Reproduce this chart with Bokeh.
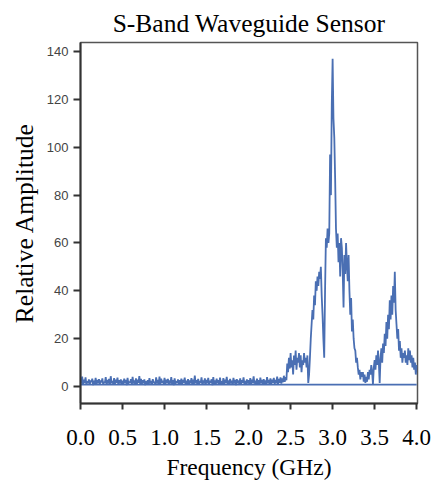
import numpy as np
from bokeh.plotting import figure
from bokeh.models import Range1d, FixedTicker
from bokeh.embed import file_html
from bokeh.resources import INLINE

TITLE = "S-Band Waveguide Sensor"
X_LABEL = "Frequency (GHz)"
Y_LABEL = "Relative Amplitude"

X_TICKS = [0.0, 0.5, 1.0, 1.5, 2.0, 2.5, 3.0, 3.5, 4.0]
X_TICK_LABELS = ["0.0", "0.5", "1.0", "1.5", "2.0", "2.5", "3.0", "3.5", "4.0"]
Y_TICKS = [0, 20, 40, 60, 80, 100, 120, 140]

FREQ_START = 0.0
FREQ_STEP = 0.01

# noise floor 0.00 - 2.45 GHz
AMP_FLOOR = [
    3.5, 1.2, 4.1, 0.8, 2.9, 1.5, 3.8, 0.9, 2.2, 1.4,
    3.0, 0.7, 2.6, 1.8, 3.3, 0.6, 2.4, 1.1, 3.6, 1.0,
    2.8, 1.3, 3.1, 0.9, 2.5, 1.7, 3.4, 0.8, 2.0, 1.5,
    3.9, 1.0, 2.7, 1.2, 3.2, 0.7, 4.3, 1.4, 2.3, 0.9,
    3.5, 1.1, 2.9, 1.6, 3.7, 0.8, 2.6, 1.3, 3.0, 1.0,
    2.4, 0.9, 3.3, 1.5, 2.8, 0.6, 3.6, 1.2, 2.1, 1.7,
    3.1, 0.8, 4.0, 1.3, 2.5, 1.0, 3.4, 0.7, 2.9, 1.6,
    4.4, 1.1, 3.2, 0.9, 2.7, 1.4, 3.0, 0.6, 2.2, 1.2,
    2.6, 0.8, 3.5, 1.3, 2.3, 0.7, 3.1, 1.5, 2.0, 0.9,
    3.8, 1.2, 2.8, 1.0, 4.1, 0.8, 3.3, 1.6, 2.4, 1.1,
    3.6, 0.9, 2.9, 1.4, 3.2, 0.7, 2.5, 1.3, 3.9, 1.0,
    2.7, 0.6, 3.4, 1.2, 2.2, 1.5, 3.0, 0.8, 2.6, 1.1,
    3.3, 0.9, 2.8, 1.6, 3.7, 0.7, 2.4, 1.2, 3.1, 0.8,
    2.5, 1.4, 3.5, 0.9, 2.9, 1.1, 4.6, 1.3, 2.7, 0.8,
    3.2, 1.0, 2.3, 1.5, 3.8, 0.7, 2.6, 1.2, 3.4, 0.9,
    2.8, 1.3, 3.6, 0.8, 2.4, 1.6, 3.0, 0.6, 3.9, 1.1,
    2.5, 0.9, 3.3, 1.4, 2.7, 0.7, 3.7, 1.2, 2.2, 1.0,
    3.5, 0.8, 2.9, 1.5, 4.0, 1.1, 2.6, 0.7, 3.2, 1.3,
    2.4, 0.9, 3.6, 1.2, 2.8, 0.6, 3.1, 1.4, 2.5, 1.0,
    3.4, 0.8, 2.7, 1.6, 3.8, 1.1, 2.3, 0.9, 3.0, 1.3,
    2.6, 1.0, 3.5, 0.7, 2.9, 1.5, 4.2, 1.2, 2.4, 0.8,
    3.3, 1.1, 2.6, 0.9, 3.7, 1.4, 2.8, 0.7, 3.1, 1.2,
    2.5, 0.9, 3.9, 1.3, 2.7, 1.0, 3.4, 0.8, 2.9, 1.6,
    3.6, 1.1, 2.8, 1.4, 4.1, 0.9, 3.2, 1.5, 3.8, 1.2,
    3.4, 1.8, 4.5, 2.0, 3.9, 2.6,
]
# shoulder 2.46 - 2.70 GHz
AMP_SHOULDER = [
    9.6, 6, 12, 7.5, 14, 8, 11, 5, 13, 9,
    15, 7, 12, 10, 14, 8, 13, 6, 11, 9,
    14, 10, 12, 8, 13,
]
# main band 2.71 - 3.00 GHz
AMP_MAIN_RISE = [
    1.5, 5, 12, 20, 26, 32, 28, 38, 34, 44,
    40, 46, 42, 48, 45, 50, 38, 30, 20, 12,
    40, 62, 58, 66, 60, 64, 97, 80, 118, 137,
]
# 3.01 - 4.00 GHz
AMP_UPPER = [
    112, 104, 87, 66, 58, 64, 52, 60, 46, 62,
    58, 48, 33, 55, 47, 60, 51, 44, 55, 40,
    30, 37, 23, 28, 20, 16, 15, 10, 12, 8,
    5, 7, 3, 6, 4, 6, 2, 5, 1.5, 4,
    2, 6, 3, 7, 5, 9, 6, 1, 8, 11,
    7, 13, 9, 15, 10, 1.5, 12, 16, 10, 18,
    14, 22, 17, 27, 20, 30, 24, 36, 28, 38,
    30, 42, 35, 48, 32, 26, 20, 24, 15, 19,
    12, 16, 10, 14, 12, 15, 10, 13, 9, 16,
    11, 15, 10, 13, 8, 12, 7, 10, 5, 9,
]
BASE_X = [0.0, 4.0]
BASE_Y = [0.8, 0.8]

amp = np.array(AMP_FLOOR + AMP_SHOULDER + AMP_MAIN_RISE + AMP_UPPER, dtype=float)
freq = FREQ_START + FREQ_STEP * np.arange(len(amp))

LINE_COLOR = "#4a6fb3"
SERIF = "Liberation Serif"

p = figure(frame_width=337, frame_height=361,
           x_range=Range1d(0, 4.01), y_range=Range1d(-7.1, 143.8),
           output_backend="svg", toolbar_location=None,
           min_border_left=80, min_border_right=15,
           min_border_top=42, min_border_bottom=20)

p.line(BASE_X, BASE_Y, line_color=LINE_COLOR, line_width=1.8)
p.line(freq, amp, line_color=LINE_COLOR, line_width=1.8)

p.title.text = TITLE
p.title.text_font = SERIF
p.title.text_font_size = "25.5px"
p.title.text_font_style = "normal"
p.title.align = "center"
p.title.text_color = "black"

p.xgrid.visible = False
p.ygrid.visible = False
p.background_fill_color = "white"
p.border_fill_color = "white"
p.outline_line_color = "#555555"
p.outline_line_width = 1.5

xa = p.xaxis[0]
xa.ticker = FixedTicker(ticks=X_TICKS)
xa.major_label_overrides = {t: l for t, l in zip(X_TICKS, X_TICK_LABELS)}
xa.major_label_text_font = SERIF
xa.major_label_text_font_size = "23px"
xa.major_label_text_color = "black"
xa.major_label_standoff = 20
xa.axis_label = X_LABEL
xa.axis_label_text_font = SERIF
xa.axis_label_text_font_size = "23.5px"
xa.axis_label_text_font_style = "normal"
xa.axis_label_text_color = "black"
xa.axis_label_standoff = 6
xa.axis_line_color = "#333333"
xa.axis_line_width = 2
xa.major_tick_line_color = "#333333"
xa.major_tick_line_width = 2
xa.major_tick_out = 6
xa.major_tick_in = 0
xa.minor_tick_line_color = None

ya = p.yaxis[0]
ya.ticker = FixedTicker(ticks=Y_TICKS)
ya.major_label_text_font = "Liberation Sans"
ya.major_label_text_font_size = "13px"
ya.major_label_text_color = "#444444"
ya.major_label_standoff = 5
ya.axis_label = Y_LABEL
ya.axis_label_text_font = SERIF
ya.axis_label_text_font_size = "25.5px"
ya.axis_label_text_font_style = "normal"
ya.axis_label_text_color = "black"
ya.axis_label_standoff = 5
ya.axis_line_color = "#333333"
ya.axis_line_width = 2
ya.major_tick_line_color = "#333333"
ya.major_tick_line_width = 2
ya.major_tick_out = 7
ya.major_tick_in = 0
ya.minor_tick_line_color = None

open("out.html", "w").write(file_html(p, INLINE))
